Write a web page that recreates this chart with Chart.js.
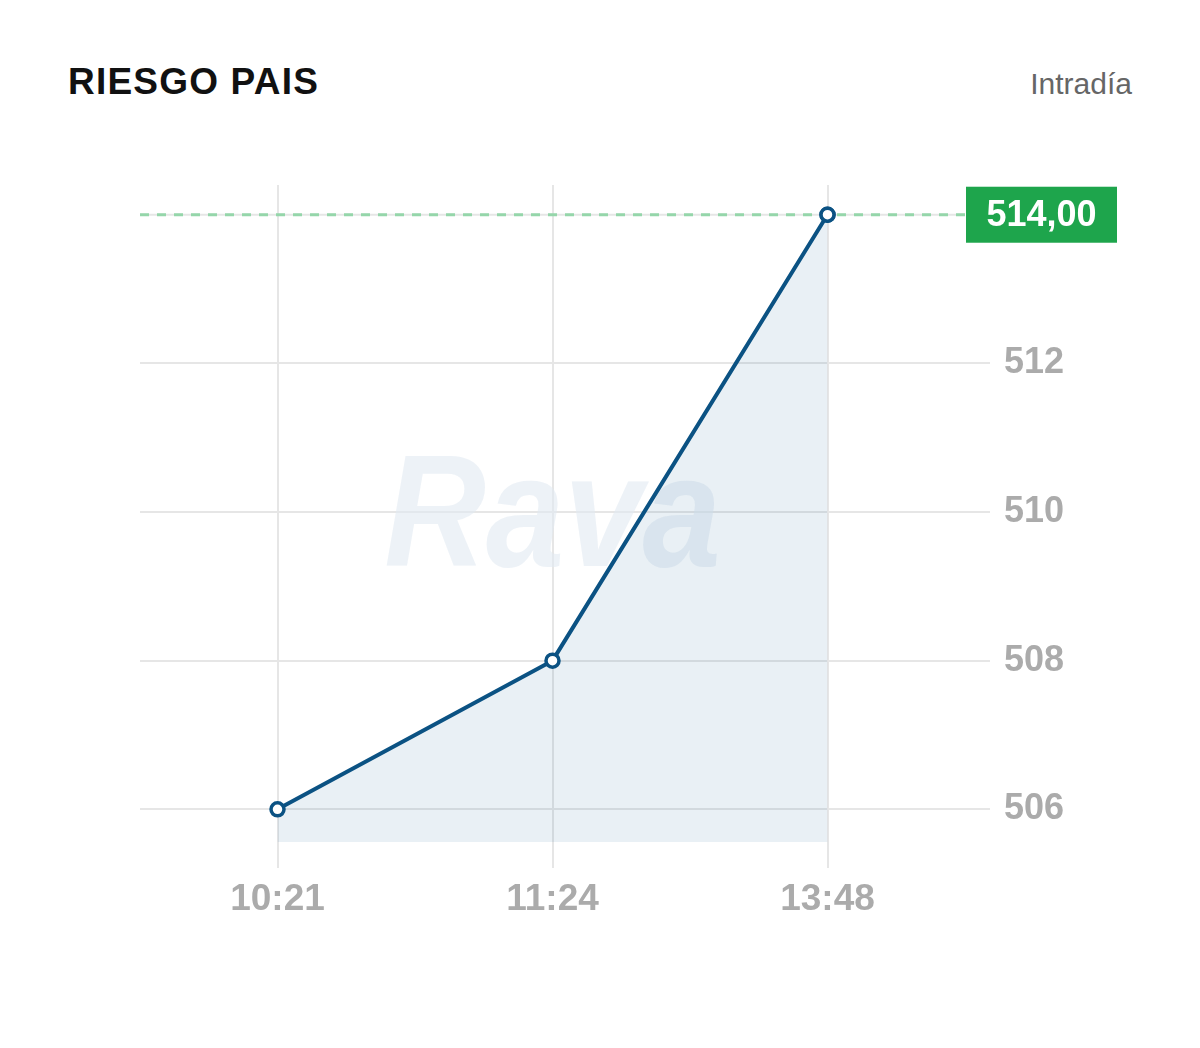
<!DOCTYPE html>
<html>
<head>
<meta charset="utf-8">
<script src="https://cdn.jsdelivr.net/npm/chart.js@4.4.1/dist/chart.umd.min.js"></script>
<style>
  html, body { margin: 0; padding: 0; background: #fff; }
  #wrap { position: relative; width: 1200px; height: 1048px; }
  #title { position: absolute; left: 68px; top: 61px; font-family: "Liberation Sans", Arial, sans-serif; font-weight: bold; font-size: 37px; line-height: normal; letter-spacing: 1.2px; color: #111; white-space: nowrap; }
  #sub { position: absolute; right: 68px; top: 67px; font-family: "Liberation Sans", Arial, sans-serif; font-size: 30px; line-height: normal; color: #666; white-space: nowrap; }
  canvas { position: absolute; left: 0; top: 0; }
</style>
</head>
<body>
<div id="wrap">
  <div id="title">RIESGO PAIS</div>
  <div id="sub">Intradía</div>
  <canvas id="c" width="1200" height="1048"></canvas>
</div>
<script>
const categories = ["10:21", "11:24", "13:48"];
const values = [506, 508, 514];
const yTicks = [506, 508, 510, 512];
const lastLabel = "514,00";
const watermark = "Rava";

const sans = "'Liberation Sans', Arial, sans-serif";

const watermarkPlugin = {
  id: 'wm',
  beforeDatasetsDraw(chart) {
    const ctx = chart.ctx;
    ctx.save();
    ctx.translate(chart.scales.x.getPixelForValue(1), 566);
    ctx.scale(0.88, 1);
    ctx.font = "italic bold 160px " + sans;
    ctx.fillStyle = 'rgba(225,234,241,0.6)';
    ctx.textAlign = 'center';
    ctx.textBaseline = 'alphabetic';
    ctx.fillText(watermark, 0, 0);
    ctx.restore();
  }
};

const lastPlugin = {
  id: 'last',
  beforeDatasetsDraw(chart) {
    const ctx = chart.ctx;
    const a = chart.chartArea;
    const y = chart.scales.y.getPixelForValue(values[values.length - 1]);
    ctx.save();
    ctx.strokeStyle = '#e6e6e6';
    ctx.lineWidth = 2;
    ctx.beginPath();
    ctx.moveTo(a.left, y);
    ctx.lineTo(a.right, y);
    ctx.stroke();
    ctx.restore();
  },
  afterDatasetsDraw(chart) {
    const ctx = chart.ctx;
    const a = chart.chartArea;
    const y = chart.scales.y.getPixelForValue(values[values.length - 1]);
    ctx.save();
    ctx.strokeStyle = '#95d6aa';
    ctx.lineWidth = 3;
    ctx.setLineDash([9, 8]);
    ctx.beginPath();
    ctx.moveTo(a.left, y);
    ctx.lineTo(a.right, y);
    ctx.stroke();
    ctx.setLineDash([]);
    ctx.fillStyle = '#1ea54c';
    ctx.fillRect(a.right + 1, y - 28, 151, 56);
    ctx.fillStyle = '#fff';
    ctx.font = "bold 36px " + sans;
    ctx.textAlign = 'center';
    ctx.textBaseline = 'middle';
    ctx.fillText(lastLabel, a.right + 1 + 75.5, y + 1);
    ctx.restore();
    const meta = chart.getDatasetMeta(0);
    meta.data[meta.data.length - 1].draw(ctx, a);
  }
};

new Chart(document.getElementById('c'), {
  type: 'line',
  data: {
    labels: categories,
    datasets: [{
      data: values,
      borderColor: '#0b5283',
      borderWidth: 4,
      backgroundColor: 'rgba(35,105,155,0.1)',
      fill: 'start',
      tension: 0,
      pointRadius: 6.5,
      pointBorderWidth: 3.5,
      pointBackgroundColor: '#fff',
      pointBorderColor: '#0b5283'
    }]
  },
  options: {
    responsive: false,
    animation: false,
    devicePixelRatio: 1,
    layout: { padding: { left: 140, top: 185, right: 0, bottom: 0 } },
    plugins: { legend: { display: false }, tooltip: { enabled: false } },
    scales: {
      x: {
        offset: true,
        grid: { color: '#e6e6e6', lineWidth: 2, tickLength: 26, offset: false, drawTicks: true },
        border: { display: false },
        ticks: { color: '#ababab', font: { family: sans, size: 37, weight: 'bold' }, padding: 10, maxRotation: 0 },
        afterFit(s) { s.height = 206; }
      },
      y: {
        position: 'right',
        min: 505.56,
        max: 514.4,
        afterBuildTicks(s) { s.ticks = yTicks.map(v => ({ value: v })); },
        grid: { color: '#e6e6e6', lineWidth: 2, tickLength: 25, drawTicks: true },
        border: { display: false },
        ticks: { color: '#ababab', font: { family: sans, size: 36, weight: 'bold' }, padding: 14 },
        afterFit(s) { s.width = 235; }
      }
    }
  },
  plugins: [watermarkPlugin, lastPlugin]
});
</script>
</body>
</html>
